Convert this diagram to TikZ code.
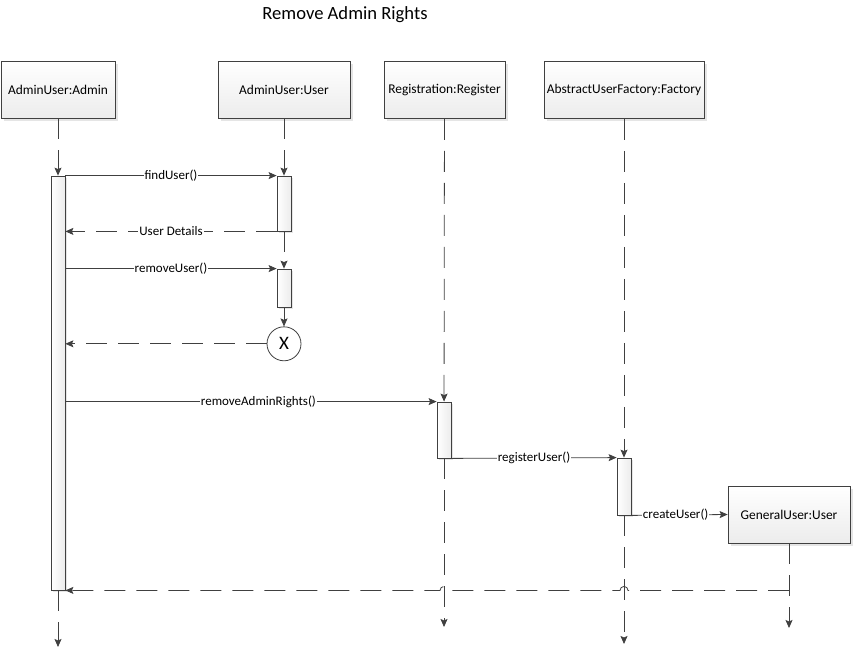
\documentclass[tikz,border=0pt]{standalone}
\usepackage{fontspec}
\setmainfont{Carlito}
\usetikzlibrary{arrows.meta, positioning, shapes, calc, shadows}
\definecolor{linec}{HTML}{404040}

\begin{document}
\begin{tikzpicture}[x=1pt, y=-1pt, line width=0.8pt,
  >={Stealth[length=8pt, width=7pt, inset=1.5pt]},
  head/.style={draw=linec, top color=white, bottom color=gray!15, minimum height=57pt, inner sep=2pt,
    font=\fontsize{13.4}{15}\selectfont, drop shadow={shadow xshift=2.5pt, shadow yshift=-2.5pt, fill=gray!40, opacity=0.5}},
  act/.style={draw=linec, left color=white, right color=gray!15, minimum width=14pt, inner sep=0pt,
    drop shadow={shadow xshift=2pt, shadow yshift=-2pt, fill=gray!40, opacity=0.5}},
  life/.style={draw=linec, dash pattern=on 21pt off 11pt},
  msg/.style={draw=linec, ->},
  ret/.style={draw=linec, ->, dash pattern=on 21pt off 11pt},
  lbl/.style={fill=white, inner sep=1pt, font=\fontsize{13}{15}\selectfont}]
  \useasboundingbox (0,0) rectangle (854,648);

  \node (title) at (345,15) {\fontsize{18.6}{21}\selectfont Remove Admin Rights};

  % lifeline heads
  \node[head, minimum width=114pt] (admin) at (58,89.5) {AdminUser:Admin};
  \node[head, minimum width=132pt] (user) at (284,89.5) {AdminUser:User};
  \node[head, minimum width=121pt] (reg) at (444.5,90) {Registration:Register};
  \node[head, minimum width=160pt] (fact) at (624,90) {AbstractUserFactory:Factory};

  % activations
  \node[act, minimum height=414pt] (aAdmin) at (58,383) {};
  \node[act, minimum height=55pt] (aUser1) at (284,203.5) {};
  \node[act, minimum height=38pt] (aUser2) at (284,288) {};
  \node[act, minimum height=56pt] (aReg) at (444,430) {};
  \node[act, minimum height=57pt] (aFact) at (624,486.5) {};
  \node[draw=linec, circle, fill=white, minimum size=34pt, inner sep=0pt, below=19pt of aUser2,
    font=\fontsize{19}{21}\selectfont] (kill) {X};
  \node[head, minimum width=122pt] (gen) at (789,514.5) {GeneralUser:User};

  \coordinate (adminEnd) at (58,647);
  \coordinate (regEnd) at (444,627);
  \coordinate (factEnd) at (624,644);
  \coordinate (genEnd) at (789,628);
  \coordinate (backStart) at (gen |- aAdmin.south);

  % lifelines
  \draw[life, ->] (admin) -- (aAdmin);
  \draw[life, ->] (user) -- (aUser1);
  \draw[life, ->] (aUser1) -- (aUser2);
  \draw[msg] (aUser2) -- (kill);
  \draw[life, ->] (reg) -- (aReg);
  \draw[life, ->] (fact) -- (aFact);
  \draw[life, ->] (aAdmin) -- (adminEnd);
  \draw[life, ->] (aReg) -- (regEnd);
  \draw[life, ->] (aFact) -- (factEnd);
  \draw[life, ->] (gen) -- (genEnd);

  % messages
  \draw[msg] (aUser1.north west -| aAdmin.east) -- node[lbl] {findUser()} (aUser1.north west);
  \draw[ret] (aUser1.south west) -- node[lbl] {User Details} (aUser1.south west -| aAdmin.east);
  \draw[msg] (aUser2.north west -| aAdmin.east) -- node[lbl] {removeUser()} (aUser2.north west);
  \draw[ret] (kill.west) -- (kill.west -| aAdmin.east);
  \draw[msg] (aReg.north west -| aAdmin.east) -- node[lbl, pos=0.52] {removeAdminRights()} (aReg.north west);
  \draw[msg] (aReg.south east) -- node[lbl] {registerUser()} (aFact.north west);
  \draw[msg] (aFact.south east) -- node[lbl, pos=0.46] {createUser()} (gen.west);
  \draw[ret] (backStart) -- ($(aFact |- backStart)+(4,0)$) arc[start angle=0, end angle=-180, radius=4]
    -- ($(aReg |- backStart)+(4,0)$) arc[start angle=0, end angle=-180, radius=4]
    -- (aAdmin.south east);
\end{tikzpicture}
\end{document}
